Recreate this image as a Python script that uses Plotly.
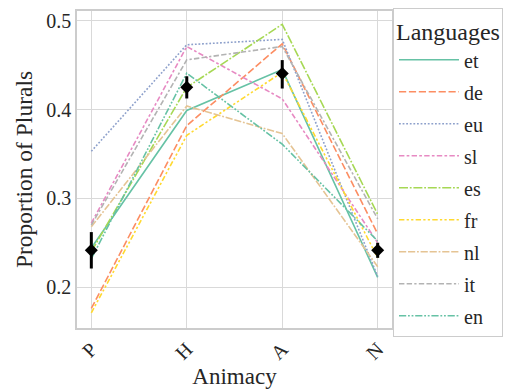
import plotly.graph_objects as go

categories = ["P", "H", "A", "N"]
languages = ["et", "de", "eu", "sl", "es", "fr", "nl", "it", "en"]

et = [0.244, 0.399, 0.445, 0.211]
de = [0.176, 0.382, 0.474, 0.260]
eu = [0.353, 0.473, 0.479, 0.212]
sl = [0.272, 0.471, 0.412, 0.250]
es = [0.240, 0.425, 0.496, 0.282]
fr = [0.171, 0.371, 0.442, 0.233]
nl = [0.268, 0.404, 0.373, 0.223]
it = [0.270, 0.456, 0.471, 0.277]
en = [0.232, 0.441, 0.361, 0.252]

mean_vals = [0.2415, 0.425, 0.4407, 0.2415]
err_plus = [0.0205, 0.0125, 0.015, 0.0085]
err_minus = [0.0205, 0.0125, 0.017, 0.0085]

series = [et, de, eu, sl, es, fr, nl, it, en]
colors = ["#66c2a5", "#fc8d62", "#8da0cb", "#e78ac3", "#a6d854",
          "#ffd92f", "#e5c494", "#b3b3b3", "#66c2a5"]

s = 1.8
def d(*segs):
    return ",".join(f"{v*s:.2f}px" for v in segs)

dashes = ["solid", d(4, 1.5), d(1, 1), d(3, 1.25, 1.5, 1.25), d(5, 1, 1, 1),
          d(3, 1.25, 1.25, 1.25, 1.25, 1.25), d(4, 1, 4, 1, 1, 1),
          d(3, 1.25, 3, 1.25, 1.25, 1.25), d(4, 1, 1, 1, 1, 1)]

FONT = "Liberation Serif, Times New Roman, serif"
TXT = "#262626"

# page has an 8px body margin; figure sized to fill the remaining window
W, H = 505, 382

fig = go.Figure()
xs = list(range(len(categories)))
for name, vals, c, dsh in zip(languages, series, colors, dashes):
    fig.add_trace(go.Scatter(x=xs, y=vals, mode="lines", name=name,
                             line=dict(color=c, width=1.6, dash=dsh),
                             legendgroup=name))

fig.add_trace(go.Scatter(x=xs, y=mean_vals, mode="markers", showlegend=False,
                         marker=dict(symbol="diamond", size=10, color="black"),
                         error_y=dict(type="data", array=err_plus, arrayminus=err_minus,
                                      symmetric=False, color="black", thickness=3, width=0)))

fig.update_layout(
    width=W, height=H,
    margin=dict(l=69, r=121, t=3, b=62, autoexpand=False),
    paper_bgcolor="white", plot_bgcolor="white",
    font=dict(family=FONT, color=TXT, size=20),
    legend=dict(title=dict(text="Languages", font=dict(size=24, family=FONT, color=TXT)),
                xref="container", yref="container",
                x=385 / W, xanchor="left", y=1.0, yanchor="top",
                font=dict(size=20, family=FONT, color=TXT),
                bordercolor="#cccccc", borderwidth=1, bgcolor="white",
                tracegroupgap=3, maxheight=1.0, itemwidth=60),
)
fig.update_xaxes(range=[-0.15, 3.15], tickvals=xs, ticktext=categories, tickangle=-45,
                 showgrid=True, gridcolor="#d9d9d9", gridwidth=1,
                 showline=True, linecolor="#cccccc", linewidth=1.5, mirror=True,
                 zeroline=False, ticks="", tickfont=dict(size=20, family=FONT),
                 title=dict(text="Animacy", font=dict(size=23, family=FONT), standoff=2))
fig.update_yaxes(range=[0.154, 0.511], tickvals=[0.2, 0.3, 0.4, 0.5],
                 ticktext=["0.2", "0.3", "0.4", "0.5"],
                 showgrid=True, gridcolor="#d9d9d9", gridwidth=1,
                 showline=True, linecolor="#cccccc", linewidth=1.5, mirror=True,
                 zeroline=False, ticks="", ticklen=0, tickfont=dict(size=20, family=FONT),
                 title=dict(text="Proportion of Plurals", font=dict(size=23.5, family=FONT), standoff=7))

fig.write_html("out.html")
